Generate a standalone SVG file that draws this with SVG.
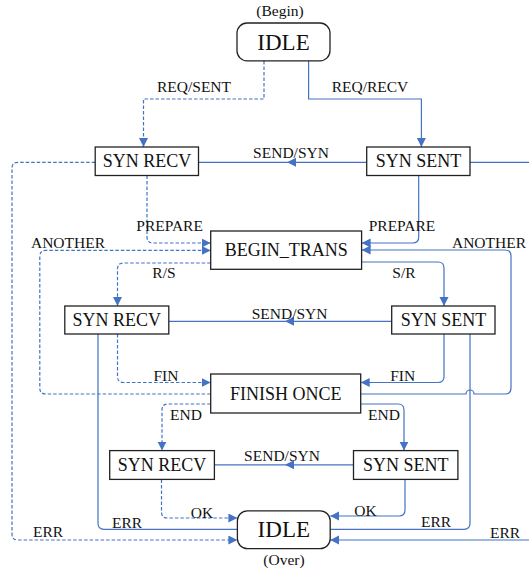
<svg xmlns="http://www.w3.org/2000/svg" width="529" height="572" viewBox="0 0 529 572">
<style>
.bg{fill:#fff}
.box{fill:#fff;stroke:#222;stroke-width:1.3}
.bt{font-family:"Liberation Serif","Times New Roman",serif;font-size:18px;fill:#111;text-anchor:middle}
.it{font-family:"Liberation Serif","Times New Roman",serif;font-size:23px;fill:#111;text-anchor:middle}
.lb{font-family:"Liberation Serif","Times New Roman",serif;font-size:15.5px;fill:#111;text-anchor:middle}
.c{fill:none;stroke:#4472C4;stroke-width:1.2}
.d{stroke-dasharray:3.5,2}
.a{marker-end:url(#arr)}
.m{marker-mid:url(#arr)}
</style>
<defs>
<marker id="arr" markerUnits="userSpaceOnUse" markerWidth="10" markerHeight="10" refX="9" refY="4.5" orient="auto">
<path d="M0,0 L9,4.5 L0,9 z" fill="#4472C4"/>
</marker>
</defs>
<rect class="bg" x="0" y="0" width="529" height="572"/>
<g id="connectors">
<path class="c d a" d="M264,61 V99 H143.5 V147"/>
<path class="c a" d="M308.6,61 V99 H421.4 V147"/>
<path class="c m" d="M366.7,162.3 L287,162.3 L198.5,162.3"/>
<path class="c" d="M470,162.3 H529"/>
<path class="c d a" d="M95.2,162.3 H18 Q12,162.3 12,168.3 V534 Q12,540 18,540 H237.4"/>
<path class="c d a" d="M147,175.5 V237 Q147,243 153,243 H210.7"/>
<path class="c a" d="M418.7,175.5 V237 Q418.7,243 412.7,243 H361.6"/>
<path class="c d a" d="M210.7,394 H45.8 Q39.8,394 39.8,388 V256.4 Q39.8,250.4 45.8,250.4 H210.7"/>
<path class="c a" d="M360.7,394 H466 A4,4 0 0 1 474,394 H505 Q511,394 511,388 V256 Q511,250 505,250 H361.6"/>
<path class="c d a" d="M210.7,263 H123.5 Q117.5,263 117.5,269 V306"/>
<path class="c a" d="M361.6,262 H438 Q444,262 444,268 V306"/>
<path class="c m" d="M391.7,321.3 L285,321.3 L168.8,321.3"/>
<path class="c" d="M98,334 V523.3 Q98,529.3 104,529.3 H237.4"/>
<path class="c d a" d="M117.5,334 V376.5 Q117.5,382.5 123.5,382.5 H210.7"/>
<path class="c a" d="M444,334 V376.5 Q444,382.5 438,382.5 H360.7"/>
<path class="c" d="M470,334 V523.3 Q470,529.3 464,529.3 H330.2"/>
<path class="c d a" d="M210.7,404 H168 Q162,404 162,410 V450.6"/>
<path class="c a" d="M360.7,404 H398 Q404,404 404,410 V450.6"/>
<path class="c m" d="M353.5,464.8 L285,464.8 L214.4,464.8"/>
<path class="c d a" d="M161.5,479.4 V512 Q161.5,518 167.5,518 H237.4"/>
<path class="c a" d="M405,479.4 V510 Q405,516 399,516 H330.2"/>
<path class="c a" d="M529,540 H330.2"/>
</g>
<g id="labels">
<text class="lb" x="280" y="15.5">(Begin)</text>
<text class="lb" x="194" y="91.5">REQ/SENT</text>
<text class="lb" x="370" y="91.5">REQ/RECV</text>
<text class="lb" x="291" y="158">SEND/SYN</text>
<text class="lb" x="169.6" y="231">PREPARE</text>
<text class="lb" x="402" y="231">PREPARE</text>
<text class="lb" x="68" y="248">ANOTHER</text>
<text class="lb" x="489" y="248">ANOTHER</text>
<text class="lb" x="164" y="278">R/S</text>
<text class="lb" x="404" y="278">S/R</text>
<text class="lb" x="289.6" y="319">SEND/SYN</text>
<text class="lb" x="166" y="381">FIN</text>
<text class="lb" x="402.7" y="380.5">FIN</text>
<text class="lb" x="186" y="420">END</text>
<text class="lb" x="384" y="420">END</text>
<text class="lb" x="282" y="460.5">SEND/SYN</text>
<text class="lb" x="202" y="518">OK</text>
<text class="lb" x="365.5" y="516">OK</text>
<text class="lb" x="127" y="528">ERR</text>
<text class="lb" x="436" y="526.5">ERR</text>
<text class="lb" x="48" y="536.8">ERR</text>
<text class="lb" x="505" y="538">ERR</text>
<text class="lb" x="284" y="565">(Over)</text>
</g>
<g id="idle-begin"><rect class="box" x="237" y="23" width="93" height="37.8" rx="10"/><text class="it" x="283.5" y="49.5">IDLE</text></g>
<g id="syn-recv-1"><rect class="box" x="95.2" y="147" width="103.3" height="28.5"/><text class="bt" x="146.9" y="167.3">SYN RECV</text></g>
<g id="syn-sent-1"><rect class="box" x="366.7" y="147" width="103.3" height="28.5"/><text class="bt" x="418.4" y="167.3">SYN SENT</text></g>
<g id="begin-trans"><rect class="box" x="210.7" y="231" width="150.9" height="38.3"/><text class="bt" x="286.2" y="256.2">BEGIN_TRANS</text></g>
<g id="syn-recv-2"><rect class="box" x="64.8" y="306" width="104" height="28"/><text class="bt" x="116.8" y="326">SYN RECV</text></g>
<g id="syn-sent-2"><rect class="box" x="391.7" y="306" width="103.3" height="28"/><text class="bt" x="443.4" y="326">SYN SENT</text></g>
<g id="finish-once"><rect class="box" x="210.7" y="374" width="150" height="39"/><text class="bt" x="285.7" y="399.5">FINISH ONCE</text></g>
<g id="syn-recv-3"><rect class="box" x="109.7" y="450.6" width="104.7" height="28.8"/><text class="bt" x="162" y="471">SYN RECV</text></g>
<g id="syn-sent-3"><rect class="box" x="353.5" y="450.6" width="104.4" height="28.8"/><text class="bt" x="405.7" y="471">SYN SENT</text></g>
<g id="idle-over"><rect class="box" x="237.4" y="510.8" width="92.8" height="37.8" rx="10"/><text class="it" x="283.8" y="537.3">IDLE</text></g>
</svg>
